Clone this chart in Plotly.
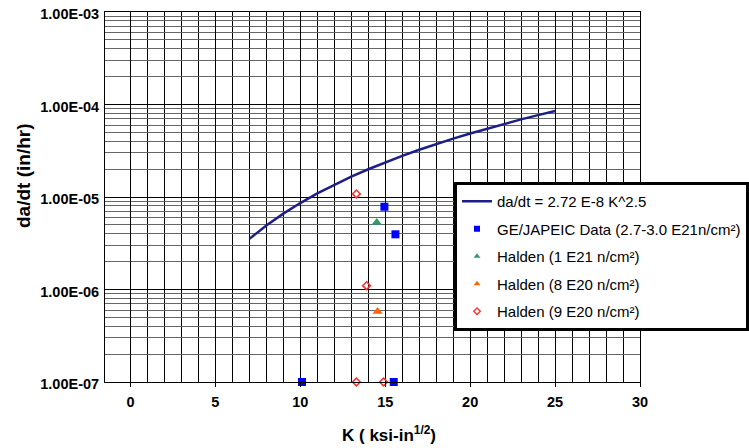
import plotly.graph_objects as go

# Crack growth law da/dt = 2.72E-8 K^2.5, tabulated at integer K
curve_k = [7, 8, 9, 10, 11, 12, 13, 14, 15, 16, 17, 18, 19, 20, 21, 22, 23, 24, 25]
curve_rate = [3.526e-6, 4.924e-6, 6.610e-6, 8.601e-6, 1.0916e-5, 1.3568e-5, 1.6574e-5,
              1.9948e-5, 2.3703e-5, 2.7853e-5, 3.2411e-5, 3.7389e-5, 4.2801e-5,
              4.8657e-5, 5.4969e-5, 6.1748e-5, 6.9006e-5, 7.6753e-5, 8.5000e-5]

# Measured points
ge_k = [14.95, 15.6, 10.1, 15.5]
ge_rate = [7.85e-6, 3.95e-6, 1.0e-7, 1.0e-7]

halden_1e21_k = [14.5]
halden_1e21_rate = [5.3e-6]

halden_8e20_k = [14.55]
halden_8e20_rate = [5.8e-7]

halden_9e20_k = [13.3, 13.9, 13.3, 14.9]
halden_9e20_rate = [1.08e-5, 1.10e-6, 1.0e-7, 1.0e-7]

x_major = [0, 5, 10, 15, 20, 25, 30]
x_grid = list(range(0, 31))
y_major = [1e-7, 1e-6, 1e-5, 1e-4, 1e-3]
y_labels = ["1.00E-07", "1.00E-06", "1.00E-05", "1.00E-04", "1.00E-03"]

FONT = "Liberation Sans, Arial, sans-serif"

fig = go.Figure()

fig.add_trace(go.Scatter(
    x=curve_k, y=curve_rate, mode="lines",
    line=dict(color="#1e1e8a", width=2.5),
    name="da/dt = 2.72 E-8 K^2.5", legendgroup="g0",
))

series = [
    ("GE/JAPEIC Data (2.7-3.0 E21n/cm²)", ge_k, ge_rate,
     dict(symbol="square", color="#0000ff", size=8), dict(symbol="square", color="#0000ff", size=6)),
    ("Halden (1 E21 n/cm²)", halden_1e21_k, halden_1e21_rate,
     dict(symbol="triangle-up", color="#33996a", size=9), dict(symbol="triangle-up", color="#33996a", size=6)),
    ("Halden (8 E20 n/cm²)", halden_8e20_k, halden_8e20_rate,
     dict(symbol="triangle-up", color="#ff6600", size=9), dict(symbol="triangle-up", color="#ff6600", size=6)),
    ("Halden (9 E20 n/cm²)", halden_9e20_k, halden_9e20_rate,
     dict(symbol="diamond-open", color="#ff3030", size=6, line=dict(width=1.6)),
     dict(symbol="diamond-open", color="#ff3030", size=5, line=dict(width=1.4))),
]

# legend entries (smaller symbols than on the plot)
for i, (name, _, _, _, leg_marker) in enumerate(series):
    fig.add_trace(go.Scatter(
        x=[None], y=[None], mode="markers", marker=leg_marker,
        name=name, legendgroup=f"g{i + 1}",
    ))

for i, (name, xs, ys, marker, _) in enumerate(series):
    fig.add_trace(go.Scatter(
        x=xs, y=ys, mode="markers", marker=marker, name=name,
        showlegend=False, cliponaxis=False, legendgroup=f"g{i + 1}",
    ))

fig.update_xaxes(
    range=[-1.5, 30],
    tickmode="array", tickvals=x_major,
    ticks="outside", ticklen=4, tickcolor="black", ticklabelstandoff=3,
    tickfont=dict(family=FONT, size=14.5, color="black", weight="bold"),
    showgrid=True, gridcolor="black", gridwidth=1,
    minor=dict(tickmode="array", tickvals=x_grid, showgrid=True,
               gridcolor="black", gridwidth=1, ticks=""),
    showline=True, linecolor="black", linewidth=1, mirror=True,
    zeroline=False,
)
fig.update_yaxes(
    type="log", range=[-7, -3],
    tickmode="array", tickvals=y_major, ticktext=y_labels,
    ticks="", ticklabelshift=2, ticklabelstandoff=2,
    tickfont=dict(family=FONT, size=14.5, color="black", weight="bold"),
    showgrid=True, gridcolor="black", gridwidth=1,
    minor=dict(dtick="D1", showgrid=True, gridcolor="#666666", gridwidth=1, ticks=""),
    showline=True, linecolor="black", linewidth=1, mirror=True,
    zeroline=False,
)

fig.add_annotation(
    text="<b>da/dt (in/hr)</b>", textangle=-90,
    xref="paper", yref="paper", x=(23 - 105) / 535, y=(382 - 176) / 370,
    xanchor="center", yanchor="middle", showarrow=False,
    font=dict(family=FONT, size=19, color="black"),
)
fig.add_annotation(
    text="<b>K ( ksi-in<sup>1/2</sup>)</b>",
    xref="paper", yref="paper", x=(389 - 105) / 535, y=-(434 - 382) / 370,
    xanchor="center", yanchor="middle", showarrow=False,
    font=dict(family=FONT, size=17, color="black"),
)

fig.update_layout(
    width=749, height=448,
    margin=dict(l=105, r=109, t=12, b=66, autoexpand=False),
    paper_bgcolor="white", plot_bgcolor="white",
    font=dict(family=FONT, color="black"),
    legend=dict(
        x=(454 - 105) / 535, y=(382 - 182) / 370, xanchor="left", yanchor="top",
        bgcolor="white", bordercolor="black", borderwidth=3,
        font=dict(family=FONT, size=15, color="black"),
        tracegroupgap=5, itemwidth=30,
    ),
)

fig.write_html("out.html")
